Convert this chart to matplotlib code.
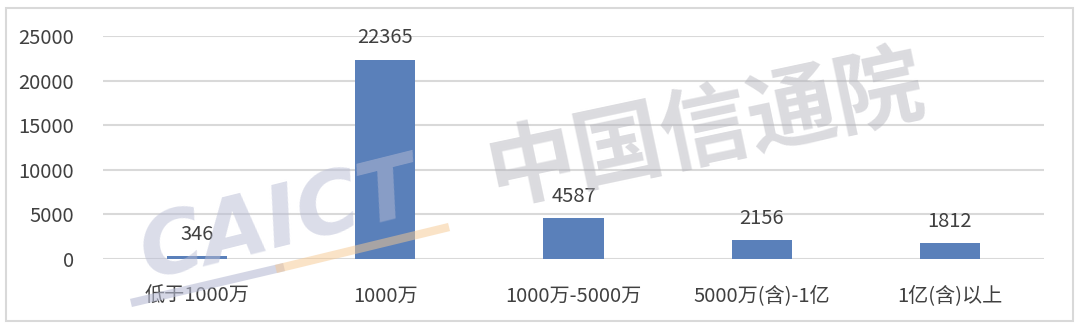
import matplotlib
matplotlib.use("Agg")
import matplotlib.pyplot as plt
from matplotlib.patches import Rectangle
from matplotlib.lines import Line2D

plt.rcParams['font.family'] = ['Noto Sans CJK SC', 'DejaVu Sans']

categories = ["低于1000万", "1000万", "1000万-5000万", "5000万(含)-1亿", "1亿(含)以上"]
values = [346, 22365, 4587, 2156, 1812]
yticks = [0, 5000, 10000, 15000, 20000, 25000]

text_color = "#404040"
bar_color = "#5a80ba"
grid_color = "#d9d9d9"
fs = 14.5

fig = plt.figure(figsize=(10.8, 3.31), dpi=100)
fig.patch.set_facecolor("white")
fig.add_artist(Rectangle((6/1080, 1 - 321/331), 1067/1080, 313/331, transform=fig.transFigure,
                         fill=False, edgecolor="#d9d9d9", linewidth=1.5))

ax = fig.add_axes([103/1080, 1 - 259/331, 941/1080, 223/331])
x = list(range(len(categories)))
ax.bar(x, values, width=0.32, color=bar_color, zorder=2)
ax.set_xlim(-0.5, len(categories) - 0.5)
ax.set_ylim(0, 25000)
ax.set_yticks(yticks)
ax.set_yticklabels([str(t) for t in yticks], fontsize=fs, color=text_color)
ax.set_xticks(x)
ax.set_xticklabels(categories, fontsize=fs, color=text_color)
ax.tick_params(axis='both', length=0)
ax.tick_params(axis='y', pad=21)
ax.tick_params(axis='x', pad=19)
ax.grid(axis='y', color=grid_color, linewidth=1.5, zorder=0)
for s in ax.spines.values():
    s.set_visible(False)

for xi, v in zip(x, values):
    ax.annotate(str(v), (xi, v), xytext=(0, 8), textcoords="offset points",
                ha="center", va="bottom", fontsize=fs, color=text_color)

# watermark
fig.add_artist(Line2D([135/1080, 280/1080], [1 - 302/331, 1 - 268/331], transform=fig.transFigure,
                      color="#b8bcd4", alpha=0.6, linewidth=6, zorder=9))
fig.add_artist(Line2D([280/1080, 445/1080], [1 - 268/331, 1 - 228/331], transform=fig.transFigure,
                      color="#f6c890", alpha=0.5, linewidth=6, zorder=9))
fig.text(280/1080, 1 - 222/331, "CAICT", fontsize=62, fontweight="bold", style="italic",
         color="#b8bcd4", alpha=0.5, rotation=14, ha="center", va="center",
         family=["DejaVu Sans"], zorder=10)
fig.text(705/1080, 1 - 130/331, "中国信通院", fontsize=64, fontweight="bold",
         color="#b0b0b8", alpha=0.45, rotation=12, ha="center", va="center", zorder=10)

fig.savefig("out.png", dpi=100)
